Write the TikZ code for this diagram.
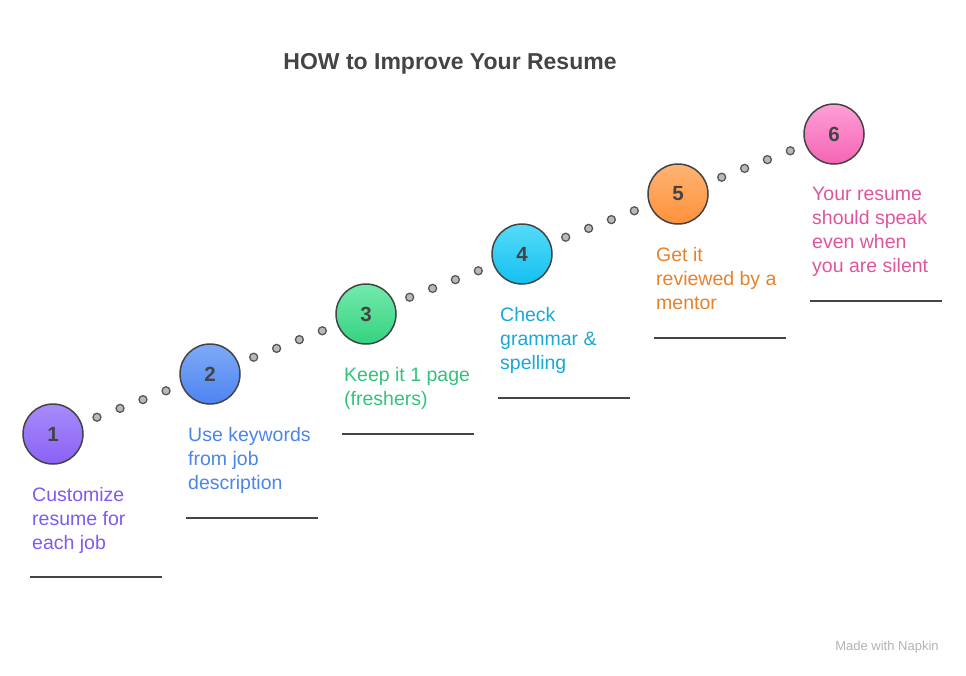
\documentclass[tikz,border=0pt]{standalone}
\usepackage{fontspec}
\setmainfont{Liberation Sans}
\usepackage{xcolor}
\usetikzlibrary{positioning,calc}

% step colours: top / bottom of the disc, label text
\definecolor{top1}{HTML}{A78BFA}\definecolor{bot1}{HTML}{8A62F6}\definecolor{txt1}{HTML}{7F5AEC}
\definecolor{top2}{HTML}{7EAAF6}\definecolor{bot2}{HTML}{4E84F2}\definecolor{txt2}{HTML}{4A86E8}
\definecolor{top3}{HTML}{74EAAE}\definecolor{bot3}{HTML}{34D27F}\definecolor{txt3}{HTML}{34C27A}
\definecolor{top4}{HTML}{55DBFA}\definecolor{bot4}{HTML}{14C0F0}\definecolor{txt4}{HTML}{1AA8D6}
\definecolor{top5}{HTML}{FFB474}\definecolor{bot5}{HTML}{FF913A}\definecolor{txt5}{HTML}{E5822D}
\definecolor{top6}{HTML}{FF9FD6}\definecolor{bot6}{HTML}{F464B4}\definecolor{txt6}{HTML}{DE559E}
\definecolor{ink}{HTML}{444444}

\tikzset{
  stepdisc/.style={circle, draw=ink, line width=1.5pt, minimum size=60pt, inner sep=0pt,
    font=\fontsize{20.5}{22}\selectfont\bfseries, text=ink},
  pathdot/.style={circle, draw=ink!90, fill=gray!55, line width=1.3pt, minimum size=8pt, inner sep=0pt},
  steptext/.style={anchor=north west, align=left, inner sep=0pt,
    font=\fontsize{19.5}{24}\selectfont},
  rule/.style={draw=ink, line width=1.1pt}
}

\begin{document}
\begin{tikzpicture}[x=1pt, y=-1pt]
    \useasboundingbox (0,0) rectangle (966,675);

    % Title
    \node[font=\fontsize{23}{26}\selectfont\bfseries, text=ink] (title) at (450,64) {HOW to Improve Your Resume};

    % Discs
    \foreach \i/\x/\y in {1/53/434, 2/210/374, 3/366/314, 4/522/254, 5/678/194, 6/834/134}
        \node[stepdisc, top color=top\i, bottom color=bot\i] (c\i) at (\x,\y) {\i};

    % Dotted trail between the discs
    \foreach \a/\b in {1/2, 2/3, 3/4, 4/5, 5/6}
        \foreach \t in {0.28, 0.427, 0.573, 0.72}
            \node[pathdot] at ($(c\a)!\t!(c\b)$) {};

    % Labels under each disc
    \node[steptext, text=txt1] (t1) at (32,487) {Customize\\resume for\\each job};
    \node[steptext, text=txt2] (t2) at (188,427) {Use keywords\\from job\\description};
    \node[steptext, text=txt3] (t3) at (344,367) {Keep it 1 page\\(freshers)};
    \node[steptext, text=txt4] (t4) at (500,307) {Check\\grammar \&\\spelling};
    \node[steptext, text=txt5] (t5) at (656,247) {Get it\\reviewed by a\\mentor};
    \node[steptext, text=txt6] (t6) at (812,187) {Your resume\\should speak\\even when\\you are silent};

    % Rules below the labels
    \foreach \i/\y in {1/577, 2/518, 3/434, 4/398, 5/338, 6/301}
        \draw[rule] ($(t\i.north west |- 0,\y) + (-2,0)$) -- ++(132,0);

    % Footer
    \node[font=\fontsize{13}{15}\selectfont, text=gray!60] (foot) at (887,647) {Made with Napkin};
\end{tikzpicture}
\end{document}
